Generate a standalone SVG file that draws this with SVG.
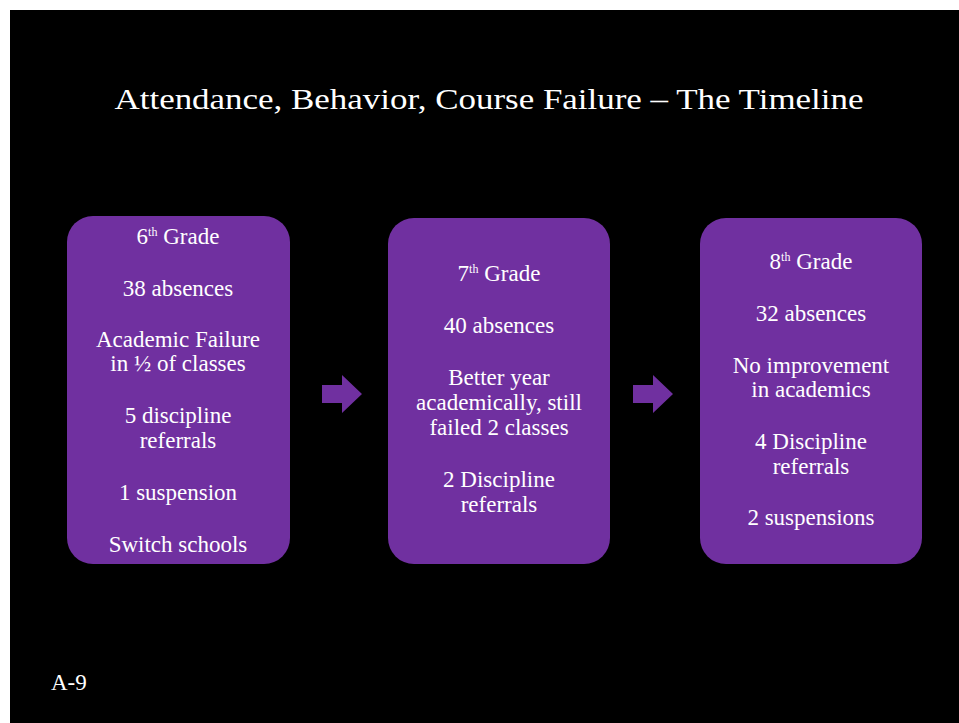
<svg xmlns="http://www.w3.org/2000/svg" width="959" height="723" viewBox="0 0 959 723">
<style>
.bg{fill:#000}
.box{fill:#7030A0}
.t{font-family:"Liberation Serif","DejaVu Serif",serif;font-size:23px;fill:#fff;text-anchor:middle}
.sup{font-size:12px}
.title{font-family:"Liberation Serif","DejaVu Serif",serif;font-size:30px;fill:#fff;text-anchor:middle}
.arrow{fill:#7030A0}
</style>
<rect width="959" height="723" fill="#fff"/>
<rect class="bg" x="10" y="10" width="949" height="713"/>
<text class="title" x="489" y="109" textLength="749" lengthAdjust="spacingAndGlyphs">Attendance, Behavior, Course Failure – The Timeline</text>
<g id="grade6">
<rect class="box" x="67" y="216" width="223" height="348" rx="26"/>
<text class="t" x="178" y="244">6<tspan class="sup" dy="-8">th</tspan><tspan dy="8"> Grade</tspan></text>
<text class="t" x="178" y="296">38 absences</text>
<text class="t" x="178" y="347">Academic Failure</text>
<text class="t" x="178" y="371">in ½ of classes</text>
<text class="t" x="178" y="423">5 discipline</text>
<text class="t" x="178" y="448">referrals</text>
<text class="t" x="178" y="500">1 suspension</text>
<text class="t" x="178" y="552">Switch schools</text>
</g>
<g id="grade7">
<rect class="box" x="388" y="218" width="222" height="346" rx="26"/>
<text class="t" x="499" y="281">7<tspan class="sup" dy="-8">th</tspan><tspan dy="8">  Grade</tspan></text>
<text class="t" x="499" y="333">40 absences</text>
<text class="t" x="499" y="385">Better year</text>
<text class="t" x="499" y="410">academically, still</text>
<text class="t" x="499" y="435">failed 2 classes</text>
<text class="t" x="499" y="487">2 Discipline</text>
<text class="t" x="499" y="512">referrals</text>
</g>
<g id="grade8">
<rect class="box" x="700" y="218" width="222" height="346" rx="26"/>
<text class="t" x="811" y="269">8<tspan class="sup" dy="-8">th</tspan><tspan dy="8"> Grade</tspan></text>
<text class="t" x="811" y="321">32 absences</text>
<text class="t" x="811" y="373">No improvement</text>
<text class="t" x="811" y="397">in academics</text>
<text class="t" x="811" y="449">4 Discipline</text>
<text class="t" x="811" y="474">referrals</text>
<text class="t" x="811" y="525">2 suspensions</text>
</g>
<g id="connectors">
<polygon class="arrow" points="322,385 342,385 342,375 362,394 342,413 342,403 322,403"/>
<polygon class="arrow" points="633,385 653,385 653,375 673,394 653,413 653,403 633,403"/>
</g>
<text x="51" y="690" font-family="Liberation Serif, DejaVu Serif, serif" font-size="23" fill="#fff">A-9</text>
</svg>
